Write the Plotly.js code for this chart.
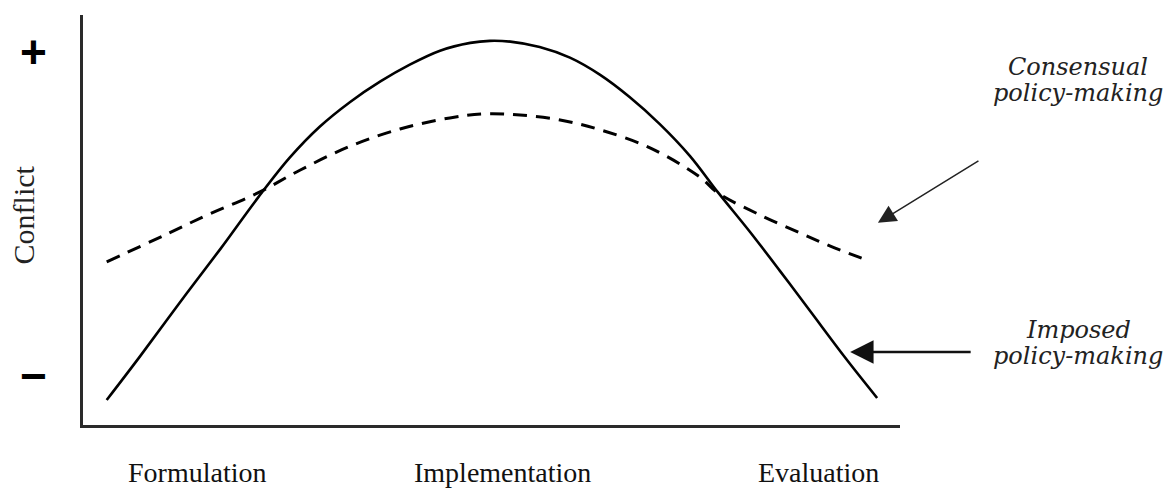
<!DOCTYPE html>
<html>
<head>
<meta charset="utf-8">
<script src="https://cdn.plot.ly/plotly-3.0.1.min.js"></script>
<style>
  html, body { margin: 0; padding: 0; background: #fff; }
  #chart { width: 1173px; height: 491px; }
</style>
</head>
<body>
<div id="chart"></div>
<script>
// Stage labels on the horizontal axis and their positions (0-100 scale)
const stageLabels = ["Formulation", "Implementation", "Evaluation"];
const stagePos = [13.9, 51.3, 90.0];

// Imposed policy-making (solid curve)
const imposedX = [2.9, 7.0, 11.9, 16.8, 21.4, 25.3, 29.0, 32.7, 36.4, 40.0, 43.7, 47.4, 49.8, 52.3, 55.9, 59.6, 63.3, 66.9, 70.6, 74.3, 77.7, 81.6, 85.3, 89.0, 93.3, 97.2];
const imposedY = [6.1, 16.8, 30.0, 42.9, 55.4, 65.2, 72.8, 78.8, 83.8, 87.9, 91.3, 93.2, 93.7, 93.5, 92.2, 89.6, 85.4, 80.0, 73.4, 65.6, 56.8, 47.2, 37.6, 27.8, 16.4, 6.6];

// Consensual policy-making (dashed curve)
const consensualX = [2.9, 10.3, 15.5, 21.4, 26.6, 32.7, 38.8, 44.9, 49.2, 53.5, 58.4, 63.3, 69.4, 75.5, 77.7, 82.9, 87.8, 91.4, 95.3];
const consensualY = [39.8, 46.6, 51.5, 56.6, 62.2, 68.0, 72.2, 74.9, 75.9, 75.6, 74.4, 72.0, 67.6, 60.5, 56.6, 51.2, 46.8, 43.7, 40.7];

// Y-axis end markers
const yMarkers = ["+", "\u2212"];
const yMarkerPos = [0.91, 0.12];

// Series names for labels
const seriesLabels = [["Consensual", "policy-making"], ["Imposed", "policy-making"]];

const traces = [
  {
    x: imposedX, y: imposedY, mode: "lines", type: "scatter",
    line: { color: "#000", width: 2.6, shape: "spline", smoothing: 1 },
    hoverinfo: "skip"
  },
  {
    x: consensualX, y: consensualY, mode: "lines", type: "scatter",
    line: { color: "#000", width: 3, dash: "14px,9px", shape: "spline", smoothing: 1 },
    hoverinfo: "skip"
  }
];

const serif = "Liberation Serif, Times New Roman, serif";
const italicFont = "DejaVu Serif, serif";

const annotations = [];

stageLabels.forEach((t, i) => {
  annotations.push({
    text: t, x: stagePos[i], xref: "x", y: -0.115, yref: "paper",
    xanchor: "center", yanchor: "middle", showarrow: false,
    font: { family: serif, size: 28, color: "#111" }
  });
});

yMarkers.forEach((t, i) => {
  annotations.push({
    text: "<b>" + t + "</b>", x: -0.061, xref: "paper", y: yMarkerPos[i], yref: "paper",
    xanchor: "center", yanchor: "middle", showarrow: false,
    font: { family: "Liberation Sans, Arial, sans-serif", size: 46, color: "#000" }
  });
});

annotations.push({
  text: "Conflict", x: -0.073, xref: "paper", y: 0.512, yref: "paper",
  xanchor: "center", yanchor: "middle", showarrow: false, textangle: -90,
  font: { family: serif, size: 30, color: "#222" }
});

// Series labels
const labelY = [[0.873, 0.81], [0.232, 0.168]];
seriesLabels.forEach((lines, i) => {
  lines.forEach((t, j) => {
    annotations.push({
      text: "<i>" + t + "</i>", x: 1.218, xref: "paper", y: labelY[i][j], yref: "paper",
      xanchor: "center", yanchor: "middle", showarrow: false,
      font: { family: italicFont, size: 24, color: "#222" }
    });
  });
});

// Arrows pointing at curves
annotations.push({
  text: "", x: 97.3, xref: "x", y: 49.3, yref: "y",
  showarrow: true, ax: 102, ay: -63, arrowhead: 2, arrowsize: 2.4, arrowwidth: 1.5,
  arrowcolor: "#222", standoff: 0
});
annotations.push({
  text: "", x: 93.9, xref: "x", y: 17.8, yref: "y",
  showarrow: true, ax: 122, ay: 0, arrowhead: 2, arrowsize: 1.8, arrowwidth: 2.6,
  arrowcolor: "#111", standoff: 0
});

const layout = {
  width: 1173, height: 491,
  margin: { l: 83, r: 273, t: 15, b: 66 },
  paper_bgcolor: "#fff", plot_bgcolor: "#fff",
  showlegend: false,
  xaxis: {
    range: [0, 100], showline: true, linecolor: "#2a2a2a", linewidth: 3,
    showgrid: false, zeroline: false, showticklabels: false, ticks: "", fixedrange: true
  },
  yaxis: {
    range: [0, 100], showline: true, linecolor: "#2a2a2a", linewidth: 3,
    showgrid: false, zeroline: false, showticklabels: false, ticks: "", fixedrange: true
  },
  annotations: annotations
};

Plotly.newPlot("chart", traces, layout, { staticPlot: true, displayModeBar: false });
</script>
</body>
</html>
